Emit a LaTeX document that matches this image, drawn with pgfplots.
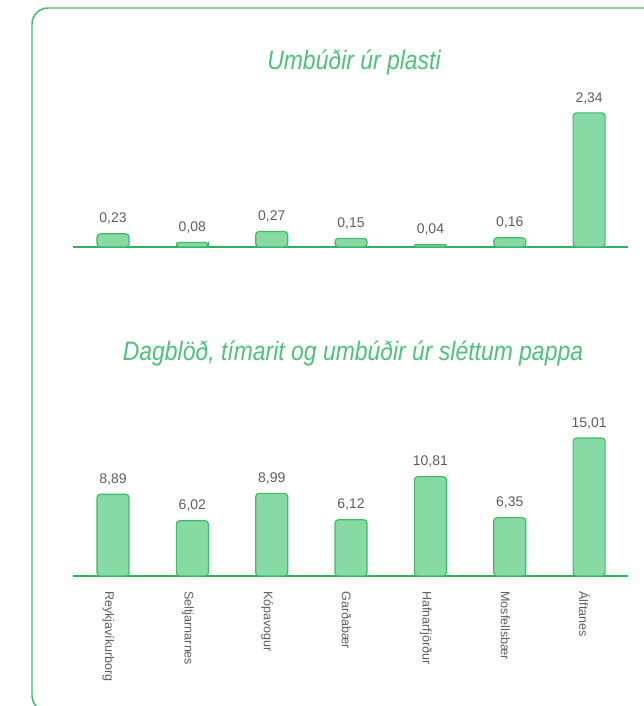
\documentclass[border=0pt]{standalone}
\usepackage{pgfplots}
\pgfplotsset{compat=1.18}
\usepackage{fontspec}
\setmainfont{Liberation Sans}
\newfontfamily\titlefont[FakeStretch=0.86]{Liberation Sans}
\definecolor{gfill}{HTML}{88DAA5}
\definecolor{gdraw}{HTML}{3DBB6B}
\definecolor{gline}{HTML}{2DB55D}
\definecolor{gtitle}{HTML}{4CC27A}
\definecolor{gframe}{HTML}{3DBE6E}
\definecolor{labelgray}{HTML}{5E5E5E}
\pgfplotsset{
  mybars/.style={
    ybar, bar shift=0pt, scale only axis, width=416.25pt, anchor=south west,
    bar width=24pt, ymin=0, xmin=-0.504, xmax=6.49,
    axis y line=none, axis x line*=bottom,
    x axis line style={draw=gline, line width=1pt, -},
    xtick=data, major tick length=0pt, ytick=\empty, clip=false,
    nodes near coords,
    nodes near coords style={font=\fontsize{10.5}{12}\selectfont, text=labelgray, anchor=south, yshift=3pt},
    /pgf/number format/.cd, use comma, fixed, fixed zerofill, precision=2, assume math mode=true,
  },
  mybarplot/.style={fill=gfill, draw=gdraw, line width=0.9pt, rounded corners=2.5pt},
}
\begin{document}
\begin{tikzpicture}
\useasboundingbox (0,0) rectangle (482.25pt,529.5pt);
\draw[overlay, draw=gframe, line width=1.1pt, rounded corners=12pt]
  (500pt,523.5pt) -- (24pt,523.5pt) -- (24pt,-4pt) -- (500pt,-4pt);
\node[font=\titlefont\itshape\fontsize{20}{24}\selectfont, text=gtitle] at (265.5pt,483pt) {Umbúðir úr plasti};
\node[font=\titlefont\itshape\fontsize{20}{24}\selectfont, text=gtitle] at (264.75pt,264.75pt) {Dagblöð, tímarit og umbúðir úr sléttum pappa};

\begin{axis}[mybars, at={(54.75pt,344.25pt)}, height=105pt, ymax=2.443, xtick={0,...,6}, xticklabels={}]
\addplot[mybarplot] coordinates {(0,0.23) (1,0.08) (2,0.27) (3,0.15) (5,0.16) (6,2.34)};
\addplot[mybarplot, rounded corners=0.7pt] coordinates {(4,0.04)};
\end{axis}

\begin{axis}[mybars, at={(54.75pt,97.5pt)}, height=112.5pt, ymax=16.32,
  xticklabels={Reykjavíkurborg, Seltjarnarnes, Kópavogur, Garðabær, Hafnarfjörður, Mosfellsbær, Álftanes},
  xticklabel style={xshift=-3.4pt, rotate=-90, anchor=west, font=\fontsize{9.4}{11}\selectfont, text=labelgray},
  xticklabel shift=8pt]
\addplot[mybarplot] coordinates {(0,8.89) (1,6.02) (2,8.99) (3,6.12) (4,10.81) (5,6.35) (6,15.01)};
\end{axis}
\end{tikzpicture}
\end{document}
